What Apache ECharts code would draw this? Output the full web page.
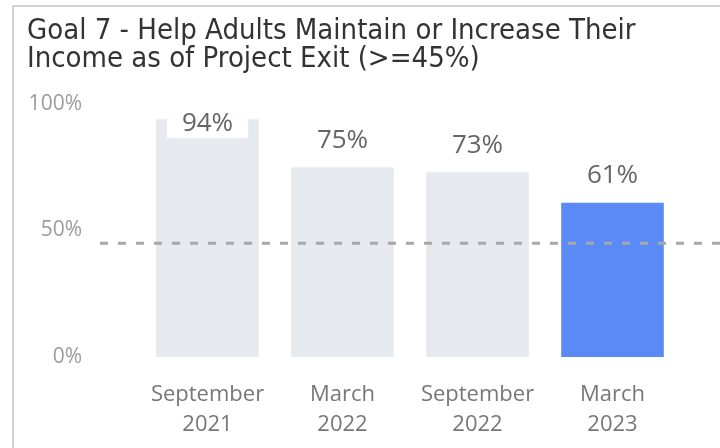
<!DOCTYPE html>
<html>
<head>
<meta charset="utf-8">
<script src="https://cdn.jsdelivr.net/npm/echarts@6/dist/echarts.min.js"></script>
<style>
  html, body { margin: 0; padding: 0; background: #fff; }
  #chart { width: 720px; height: 448px; }
</style>
</head>
<body>
<div id="chart"></div>
<script>
// Reporting periods and the share of adults who kept or raised their income
const periods = ['September\n2021', 'March\n2022', 'September\n2022', 'March\n2023'];
const incomeRates = [94, 75, 73, 61];
const targetRate = 45;
const yTicks = [0, 50, 100];

const titleLines = ['Goal 7 - Help Adults Maintain or Increase Their', 'Income as of Project Exit (>=45%)'];

const pastColor = '#e6e9ed';
const currentColor = '#5b8af7';
const labelFont = "'Open Sans', 'Noto Sans', sans-serif";
const titleFont = "'DejaVu Sans Condensed', 'Liberation Sans Narrow', Roboto, sans-serif";

const chart = echarts.init(document.getElementById('chart'), null, { renderer: 'canvas' });

const barData = incomeRates.map((v, i) => {
  const isLast = i === incomeRates.length - 1;
  const item = {
    value: v,
    itemStyle: { color: isLast ? currentColor : pastColor }
  };
  // A label that would run past the top of the plot sits inside the bar on a white plate
  if (v > 90) {
    item.label = {
      position: 'insideTop',
      distance: 0,
      backgroundColor: '#fff',
      lineHeight: 8,
      padding: [0, 15, 11, 15]
    };
  }
  return item;
});

chart.setOption({
  animation: false,
  backgroundColor: '#fff',
  title: {
    text: titleLines.join('\n'),
    left: 22,
    top: 12,
    textStyle: {
      fontFamily: titleFont,
      fontSize: 29,
      fontWeight: 'normal',
      color: '#333',
      lineHeight: 28
    }
  },
  graphic: [{
    type: 'rect',
    silent: true,
    shape: { x: 13, y: 6, width: 760, height: 480 },
    style: { fill: 'none', stroke: '#d3d3d3', lineWidth: 2 }
  }],
  grid: [
    { left: 140, right: 40, top: 104, bottom: 91 },
    { left: 100, right: 0, top: 104, bottom: 91 }
  ],
  xAxis: [{
    type: 'category',
    gridIndex: 0,
    data: periods,
    axisLine: { show: false },
    axisTick: { show: false },
    axisLabel: {
      interval: 0,
      margin: 23,
      fontFamily: labelFont,
      fontSize: 22,
      lineHeight: 30,
      color: '#777'
    }
  }, {
    type: 'value',
    gridIndex: 1,
    min: 0,
    max: 1,
    show: false
  }],
  yAxis: [{
    type: 'value',
    gridIndex: 0,
    min: yTicks[0],
    max: yTicks[yTicks.length - 1],
    interval: yTicks[1] - yTicks[0],
    splitLine: { show: false },
    axisLine: { show: false },
    axisTick: { show: false },
    axisLabel: {
      margin: 58,
      formatter: '{value}%',
      fontFamily: labelFont,
      fontSize: 21,
      color: '#9c9c9c'
    }
  }, {
    type: 'value',
    gridIndex: 1,
    min: yTicks[0],
    max: yTicks[yTicks.length - 1],
    show: false
  }],
  series: [{
    type: 'bar',
    xAxisIndex: 0,
    yAxisIndex: 0,
    data: barData,
    barCategoryGap: '24%',
    label: {
      show: true,
      position: 'top',
      distance: 14,
      formatter: '{c}%',
      fontFamily: labelFont,
      fontSize: 26,
      color: '#666'
    },
    z: 2
  }, {
    // Target threshold drawn across the whole plot width
    type: 'line',
    xAxisIndex: 1,
    yAxisIndex: 1,
    data: [[0, targetRate], [1, targetRate]],
    symbol: 'none',
    silent: true,
    lineStyle: { color: '#a8a8a8', width: 3, type: [8, 10] },
    z: 3
  }]
});
</script>
</body>
</html>
